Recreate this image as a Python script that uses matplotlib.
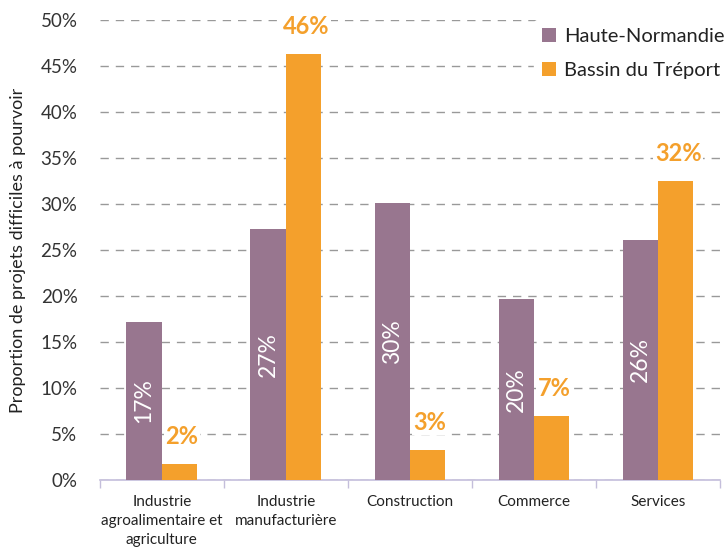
import numpy as np
import matplotlib
matplotlib.use("Agg")
import matplotlib.pyplot as plt

plt.rcParams['font.family'] = ['Lato', 'DejaVu Sans']

categories = ["Industrie\nagroalimentaire et\nagriculture", "Industrie\nmanufacturière",
              "Construction", "Commerce", "Services"]
haute_normandie = [17.2, 27.3, 30.1, 19.7, 26.1]
bassin_treport = [1.7, 46.3, 3.3, 6.9, 32.5]
hn_labels = ["17%", "27%", "30%", "20%", "26%"]
bt_labels = ["2%", "46%", "3%", "7%", "32%"]
yticks = [0, 5, 10, 15, 20, 25, 30, 35, 40, 45, 50]

purple = "#98768f"
orange = "#f4a02c"

fig = plt.figure(figsize=(7.28, 5.54), dpi=100)
ax = fig.add_axes([0.137, 0.1336, 0.852, 0.8304])

x = np.arange(len(categories))
w = 0.285
ax.bar(x - w/2, haute_normandie, w, color=purple, label="Haute-Normandie", zorder=3)
ax.bar(x + w/2, bassin_treport, w, color=orange, label="Bassin du Tréport", zorder=3)

for i in range(len(categories)):
    ax.text(x[i] - w/2, haute_normandie[i]/2, hn_labels[i], rotation=90, color="white",
            ha="center", va="center", fontsize=16.5, zorder=4)
    ax.text(x[i] + w/2 + 0.02, bassin_treport[i] + 3.0, bt_labels[i], color=orange,
            ha="center", va="center", fontsize=17, fontweight="bold", zorder=4,
            bbox=dict(facecolor="white", edgecolor="none", pad=1.0))

ax.set_xlim(-0.5, 4.5)
ax.set_ylim(0, 50)
ax.set_yticks(yticks)
ax.set_yticklabels(["%d%%" % v for v in yticks], fontsize=13.5, color="#333333")
ax.yaxis.grid(True, linestyle=(0, (6, 5)), color="#999999", linewidth=1, zorder=0)
ax.tick_params(axis="y", length=0, pad=16)

ax.set_xticks(x)
ax.set_xticklabels(categories, fontsize=11, color="#222222", va="top", linespacing=1.45)
ax.set_xticks(np.arange(-0.5, 5, 1), minor=True)
ax.tick_params(axis="x", which="major", length=0, pad=11)
ax.tick_params(axis="x", which="minor", length=6, color="#c4bedb", width=1)

for s in ["top", "right", "left"]:
    ax.spines[s].set_visible(False)
ax.spines["bottom"].set_color("#c4bedb")
ax.spines["bottom"].set_linewidth(1.2)

ax.set_ylabel("Proportion de projets difficiles à pourvoir", fontsize=13, color="#222222", labelpad=10)

leg = ax.legend(loc="upper right", bbox_to_anchor=(1.02, 1.0), frameon=True, fontsize=14.5,
                handlelength=0.7, handleheight=0.7, handletextpad=0.4, labelspacing=0.85,
                borderaxespad=0.0, borderpad=0.4)
leg.get_frame().set_facecolor("white")
leg.get_frame().set_edgecolor("white")
leg.get_frame().set_alpha(1)
for t in leg.get_texts():
    t.set_color("#222222")

fig.savefig("out.png", dpi=100)
